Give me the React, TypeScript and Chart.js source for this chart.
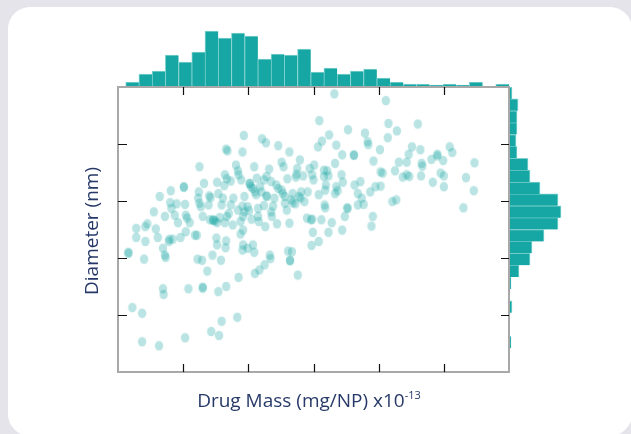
import React, { useEffect, useRef } from 'react';
import { Chart, registerables } from 'chart.js';

Chart.register(...registerables);

// ---- axes (unlabelled ticks) ----
const X_MIN = 0;
const X_MAX = 6;
const Y_MIN = 0;
const Y_MAX = 5;
const xTicks = [1, 2, 3, 4, 5];
const yTicks = [1, 2, 3, 4];

// ---- marginal histogram of drug mass (top) ----
const drugMassBinStart = 0.118;
const drugMassBinCount = 29;
const drugMassBinWidth = (X_MAX - drugMassBinStart) / drugMassBinCount;
const drugMassCounts = [4, 12, 15, 31, 24, 34, 55, 48, 53, 50, 27, 32, 31, 37, 14, 18, 12, 15, 17, 8, 4, 2, 2, 1, 2, 1, 4, 0, 2];
const drugMassCountMax = 62;

// ---- marginal histogram of diameter (right), from smallest to largest diameter ----
const diameterBinWidth = (Y_MAX - Y_MIN) / 24;
const diameterCounts = [0, 0, 1, 0, 0, 2, 0, 1, 9, 20, 22, 34, 48, 51, 48, 30, 20, 18, 7, 6, 7, 7, 8, 2];
const diameterCountMax = 60;

// ---- scatter: [drug mass, diameter] ----
const samples: [number, number][] = [
  [3.32, 4.88], [4.11, 4.76], [3.09, 4.41], [4.15, 4.36], [4.60, 4.35], [3.53, 4.25], [3.79, 4.19], [4.28, 4.23], [3.24, 4.16], [4.14, 4.11],
  [3.83, 4.04], [3.84, 3.99], [3.13, 4.05], [3.07, 3.95], [3.35, 3.98], [2.46, 3.97], [2.21, 4.09], [2.27, 4.02], [1.93, 4.15], [1.66, 3.91],
  [1.68, 3.88], [1.91, 3.86], [2.63, 3.86], [4.02, 3.90], [4.51, 3.95], [4.64, 3.90], [5.09, 3.95], [5.13, 3.85], [4.90, 3.82], [4.90, 3.79],
  [3.44, 3.81], [3.62, 3.81], [3.62, 3.80], [4.46, 3.82], [1.25, 3.60], [1.81, 3.63], [1.84, 3.53], [2.09, 3.60], [2.51, 3.68], [2.54, 3.60],
  [2.79, 3.72], [2.75, 3.57], [3.01, 3.63], [2.94, 3.57], [3.16, 3.54], [3.21, 3.53], [3.33, 3.66], [3.92, 3.70], [4.31, 3.68], [4.43, 3.68],
  [4.66, 3.66], [4.67, 3.61], [4.81, 3.73], [4.99, 3.71], [5.47, 3.67], [2.32, 3.56], [1.64, 3.46], [1.67, 3.39], [1.32, 3.31], [1.01, 3.25],
  [1.01, 3.24], [0.81, 3.18], [1.24, 3.16], [1.40, 3.09], [1.42, 3.06], [1.52, 3.33], [1.54, 3.13], [1.63, 3.27], [1.73, 3.35], [1.85, 3.46],
  [1.89, 3.37], [2.02, 3.31], [2.02, 3.30], [2.04, 3.25], [2.13, 3.40], [2.18, 3.25], [2.24, 3.37], [2.28, 3.43], [2.35, 3.34], [2.43, 3.28],
  [2.46, 3.22], [2.60, 3.39], [2.73, 3.42], [2.74, 3.47], [2.84, 3.44], [2.98, 3.46], [3.00, 3.37], [3.16, 3.43], [3.19, 3.28], [3.18, 3.19],
  [3.23, 3.44], [3.35, 3.25], [3.37, 3.18], [3.43, 3.46], [3.45, 3.33], [3.63, 3.28], [3.72, 3.34], [3.68, 3.13], [3.87, 3.16], [3.95, 3.25],
  [4.03, 3.26], [4.03, 3.51], [4.06, 3.49], [4.25, 3.53], [4.37, 3.42], [4.43, 3.46], [4.47, 3.43], [4.65, 3.44], [4.83, 3.33], [4.95, 3.49],
  [5.00, 3.44], [5.00, 3.25], [5.34, 3.41], [5.46, 3.18], [2.28, 3.09], [2.28, 3.08], [2.10, 3.16], [2.07, 3.22], [2.53, 3.13], [2.56, 3.08],
  [2.68, 3.13], [2.78, 3.08], [2.80, 3.05], [2.91, 3.16], [3.08, 3.11], [3.33, 3.13], [0.64, 3.08], [0.55, 2.81], [0.80, 2.97], [0.82, 2.87],
  [0.90, 2.95], [1.03, 2.94], [0.72, 2.73], [0.87, 2.75], [0.92, 2.62], [1.04, 2.75], [1.06, 2.70], [1.10, 2.62], [1.23, 3.05], [1.25, 2.96],
  [1.27, 2.90], [1.30, 2.73], [1.39, 2.93], [1.41, 2.67], [1.46, 2.67], [1.46, 2.66], [1.49, 2.65], [1.56, 2.71], [1.52, 2.62], [1.64, 2.62],
  [1.67, 2.73], [1.70, 2.78], [1.73, 2.93], [1.77, 3.05], [1.84, 2.84], [1.91, 2.91], [1.92, 2.73], [1.94, 2.81], [1.88, 2.64], [1.99, 2.90],
  [2.01, 2.83], [2.05, 2.68], [2.15, 2.73], [2.16, 2.64], [2.24, 2.92], [2.26, 2.55], [2.38, 2.91], [2.36, 2.73], [2.44, 2.60], [2.59, 2.84],
  [2.63, 2.61], [2.68, 2.97], [2.72, 2.95], [2.86, 2.99], [2.90, 2.70], [2.96, 2.67], [2.98, 2.68], [3.12, 2.67], [3.17, 2.93], [3.18, 2.88],
  [3.28, 2.62], [3.48, 2.73], [3.52, 2.88], [3.52, 2.87], [3.68, 2.93], [3.77, 2.94], [3.74, 3.05], [3.91, 2.73], [3.89, 2.56], [4.21, 2.99],
  [4.27, 3.02], [5.30, 2.88], [0.28, 2.52], [0.28, 2.36], [0.42, 2.55], [0.45, 2.60], [0.42, 2.29], [0.58, 2.51], [0.61, 2.36], [0.79, 2.33],
  [0.84, 2.33], [0.78, 2.29], [0.96, 2.36], [1.04, 2.46], [1.18, 2.40], [1.21, 2.40], [1.51, 2.35], [1.52, 2.23], [1.66, 2.30], [1.65, 2.18],
  [1.88, 2.42], [1.92, 2.23], [1.91, 2.14], [1.99, 2.17], [2.07, 2.23], [2.09, 2.10], [2.33, 2.05], [2.34, 1.99], [2.61, 2.12], [2.67, 2.11],
  [2.64, 1.96], [2.64, 1.95], [2.97, 2.22], [2.99, 2.45], [3.08, 2.29], [3.23, 2.45], [3.44, 2.49], [0.16, 2.10], [0.16, 2.08], [0.40, 1.98],
  [0.69, 2.17], [0.72, 2.05], [0.73, 2.01], [1.22, 1.98], [1.29, 1.96], [1.45, 2.05], [1.58, 1.96], [1.37, 1.77], [1.85, 1.66], [2.10, 1.73],
  [2.17, 1.79], [2.25, 1.88], [2.76, 1.70], [0.69, 1.46], [0.70, 1.36], [1.08, 1.46], [1.30, 1.49], [1.30, 1.47], [1.54, 1.41], [1.66, 1.50],
  [0.22, 1.13], [0.37, 1.03], [1.83, 0.96], [1.59, 0.89], [1.43, 0.71], [1.55, 0.64], [1.03, 0.60], [0.37, 0.53], [0.63, 0.46],
  [1.61, 3.05], [1.59, 2.93], [1.76, 2.58], [1.92, 2.49], [2.15, 2.87], [2.35, 2.81], [2.40, 3.05], [2.56, 2.96], [1.94, 3.08], [2.12, 3.11],
  [2.20, 3.16], [2.51, 3.19], [2.66, 3.02], [2.81, 3.16],
];

const BAR_FILL = '#16a7a4';
const BAR_EDGE = '#7fd2cf';
const POINT_FILL = 'rgba(24,164,162,0.3)';
const TEXT_COLOR = '#263968';
const FONT = '"Open Sans", "Noto Sans", sans-serif';

const framePlugin = {
  id: 'frameTicks',
  afterDatasetsDraw(chart: any) {
    const { ctx, chartArea } = chart;
    const { left, right, top, bottom } = chartArea;
    const xs = chart.scales.x;
    const ys = chart.scales.y;
    ctx.save();
    ctx.strokeStyle = '#a8a8a8';
    ctx.lineWidth = 2;
    ctx.strokeRect(left, top, right - left, bottom - top);
    ctx.strokeStyle = '#111';
    ctx.lineWidth = 1.2;
    ctx.beginPath();
    for (const v of xTicks) {
      const px = Math.round(xs.getPixelForValue(v)) + 0.5;
      ctx.moveTo(px, bottom);
      ctx.lineTo(px, bottom - 8);
      ctx.moveTo(px, top);
      ctx.lineTo(px, top + 8);
    }
    for (const v of yTicks) {
      const py = Math.round(ys.getPixelForValue(v)) + 0.5;
      ctx.moveTo(left, py);
      ctx.lineTo(left + 9, py);
      ctx.moveTo(right, py);
      ctx.lineTo(right - 8, py);
    }
    ctx.stroke();
    ctx.restore();
  },
};

function makeEllipse(): HTMLCanvasElement {
  const c = document.createElement('canvas');
  c.width = 10;
  c.height = 11;
  const g = c.getContext('2d')!;
  g.fillStyle = POINT_FILL;
  g.beginPath();
  g.ellipse(5, 5.5, 4.2, 4.8, 0, 0, Math.PI * 2);
  g.fill();
  return c;
}

export default function App() {
  const mainRef = useRef<HTMLCanvasElement>(null);
  const topRef = useRef<HTMLCanvasElement>(null);
  const rightRef = useRef<HTMLCanvasElement>(null);

  useEffect(() => {
    const hidden = { display: false };
    const commonPlugins = { legend: { display: false }, tooltip: { enabled: false }, title: { display: false } };

    const main = new Chart(mainRef.current!, {
      type: 'scatter',
      data: {
        datasets: [
          {
            data: samples.map(([x, y]) => ({ x, y })),
            pointStyle: makeEllipse() as any,
            pointRadius: 4.8,
            backgroundColor: POINT_FILL,
            borderWidth: 0,
          },
        ],
      },
      options: {
        responsive: false,
        animation: false,
        layout: { padding: 10 },
        scales: {
          x: { type: 'linear', min: X_MIN, max: X_MAX, ...hidden, ticks: { stepSize: 1 } },
          y: { type: 'linear', min: Y_MIN, max: Y_MAX, ...hidden, ticks: { stepSize: 1 } },
        },
        plugins: commonPlugins as any,
      },
      plugins: [framePlugin],
    });

    const top = new Chart(topRef.current!, {
      type: 'bar',
      data: {
        datasets: [
          {
            data: drugMassCounts.map((c, i) => ({ x: drugMassBinStart + (i + 0.5) * drugMassBinWidth, y: c })),
            backgroundColor: BAR_FILL,
            borderColor: BAR_EDGE,
            borderWidth: { top: 1, left: 1, right: 0, bottom: 0 } as any,
            borderSkipped: 'bottom',
            categoryPercentage: 1,
            barPercentage: 1,
          },
        ],
      },
      options: {
        responsive: false,
        animation: false,
        layout: { padding: 0 },
        scales: {
          x: { type: 'linear', min: X_MIN, max: X_MAX, offset: false, ...hidden, ticks: { stepSize: 1 } },
          y: { type: 'linear', min: 0, max: drugMassCountMax, ...hidden },
        },
        plugins: commonPlugins as any,
      },
    });

    const right = new Chart(rightRef.current!, {
      type: 'bar',
      data: {
        datasets: [
          {
            data: diameterCounts.map((c, i) => ({ y: Y_MIN + (i + 0.5) * diameterBinWidth, x: c })),
            backgroundColor: BAR_FILL,
            borderColor: BAR_EDGE,
            borderWidth: { top: 1, right: 1, left: 0, bottom: 0 } as any,
            borderSkipped: 'left',
            categoryPercentage: 1,
            barPercentage: 1,
          },
        ],
      },
      options: {
        indexAxis: 'y',
        responsive: false,
        animation: false,
        layout: { padding: 0 },
        scales: {
          y: { type: 'linear', min: Y_MIN, max: Y_MAX, offset: false, ...hidden, ticks: { stepSize: 1 } },
          x: { type: 'linear', min: 0, max: diameterCountMax, ...hidden },
        },
        plugins: commonPlugins as any,
      },
    });

    return () => {
      main.destroy();
      top.destroy();
      right.destroy();
    };
  }, []);

  return (
    <div
      style={{
        position: 'fixed',
        left: 0,
        top: 0,
        width: 631,
        height: 434,
        overflow: 'hidden',
        background: '#e4e4ea',
        fontFamily: FONT,
      }}
    >
      <div style={{ position: 'absolute', left: 8, top: 7, width: 624, height: 429, borderRadius: 22, background: '#fff' }} />
      <canvas ref={topRef} width={391} height={62} style={{ position: 'absolute', left: 118, top: 24, width: 391, height: 62 }} />
      <canvas ref={rightRef} width={60} height={285} style={{ position: 'absolute', left: 510, top: 87, width: 60, height: 285 }} />
      <canvas ref={mainRef} width={411} height={305} style={{ position: 'absolute', left: 108, top: 77, width: 411, height: 305 }} />
      <div
        style={{
          position: 'absolute',
          left: 109,
          top: 390,
          width: 400,
          textAlign: 'center',
          fontSize: 19,
          lineHeight: '20px',
          color: TEXT_COLOR,
          whiteSpace: 'nowrap',
        }}
      >
        Drug Mass (mg/NP) x10<span style={{ fontSize: 11, position: 'relative', top: -8 }}>-13</span>
      </div>
      <div
        style={{
          position: 'absolute',
          left: -9.5,
          top: 219,
          width: 200,
          height: 24,
          textAlign: 'center',
          fontSize: 19,
          lineHeight: '24px',
          color: TEXT_COLOR,
          whiteSpace: 'nowrap',
          transform: 'rotate(-90deg)',
          transformOrigin: 'center',
        }}
      >
        Diameter (nm)
      </div>
    </div>
  );
}
